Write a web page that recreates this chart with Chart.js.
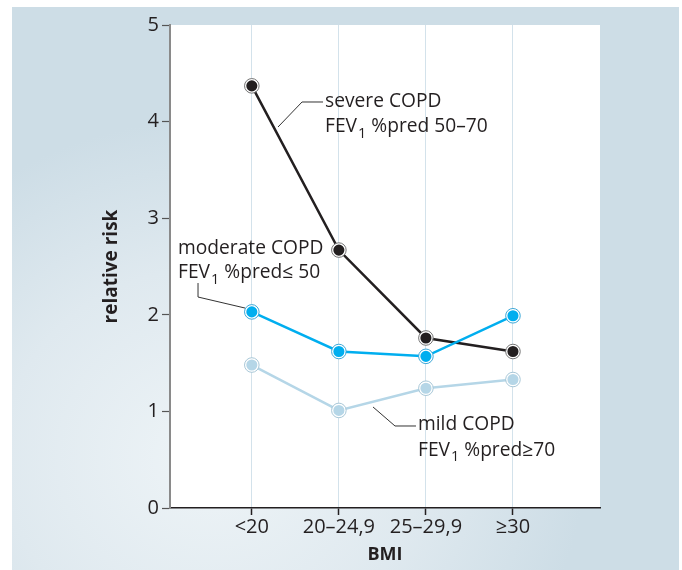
<!DOCTYPE html>
<html>
<head>
<meta charset="utf-8">
<script src="https://cdn.jsdelivr.net/npm/chart.js@4.4.0/dist/chart.umd.min.js"></script>
<style>
  html, body { margin: 0; padding: 0; background: #ffffff; }
  #wrap { position: relative; width: 682px; height: 570px; }
  #panel { position: absolute; left: 12px; top: 7px; width: 667px; height: 563px;
    background: radial-gradient(ellipse 70% 75% at 30% 80%, #eef4f7 0%, #dfe9ef 45%, #cddde6 80%); }
  #c { position: absolute; left: 0; top: 0; }
</style>
</head>
<body>
<div id="wrap">
  <div id="panel"></div>
  <canvas id="c" width="682" height="570"></canvas>
</div>
<script>
const categories = ['<20', '20–24,9', '25–29,9', '≥30'];
const severe   = [4.37, 2.67, 1.76, 1.62];
const moderate = [2.03, 1.62, 1.57, 1.99];
const mild     = [1.48, 1.01, 1.24, 1.33];
const yTicks   = [0, 1, 2, 3, 4, 5];

const FONT = '"Open Sans", Lato, sans-serif';
const TEXT = '#231f20';

function pts(arr) { return arr.map((v, i) => ({ x: i + 1, y: v })); }

// annotation labels (anchored in data space)
const annotations = [
  { x: 1.841, y1: 4.203, y2: 3.944, l1: 'severe COPD', sub: ' %pred 50–70',
    leader: [[1.301, 3.944], [1.577, 4.203], [1.818, 4.203]] },
  { x: 0.152, y1: 2.681, y2: 2.433, l1: 'moderate COPD', sub: ' %pred≤ 50',
    leader: [[0.382, 2.329], [0.382, 2.184], [0.922, 2.070]] },
  { x: 2.909, y1: 0.859, y2: 0.600, l1: 'mild COPD', sub: ' %pred≥70',
    leader: [[2.392, 1.046], [2.645, 0.849], [2.886, 0.849]] }
];

const bgPlugin = {
  id: 'bg',
  beforeDraw(chart) {
    const { ctx, chartArea: a } = chart;
    ctx.save();
    ctx.fillStyle = '#ffffff';
    ctx.fillRect(a.left, a.top, a.right - a.left, a.bottom - a.top);
    ctx.restore();
  }
};

const ringPlugin = {
  id: 'ring',
  afterDatasetsDraw(chart) {
    const { ctx } = chart;
    ctx.save();
    chart.data.datasets.forEach((ds, di) => {
      const meta = chart.getDatasetMeta(di);
      meta.data.forEach(pt => {
        ctx.beginPath();
        ctx.arc(pt.x, pt.y, 7.3, 0, Math.PI * 2);
        ctx.strokeStyle = ds.ringColor;
        ctx.lineWidth = 1;
        ctx.stroke();
      });
    });
    ctx.restore();
  }
};

const annPlugin = {
  id: 'ann',
  afterDraw(chart) {
    const { ctx } = chart;
    const xs = chart.scales.x, ys = chart.scales.y;
    ctx.save();
    // y axis title
    ctx.save();
    ctx.translate(xs.left - 58, (ys.top + ys.bottom) / 2);
    ctx.rotate(-Math.PI / 2);
    ctx.font = 'bold 19px ' + FONT;
    ctx.fillStyle = TEXT;
    ctx.textAlign = 'center';
    ctx.textBaseline = 'middle';
    ctx.fillText('relative risk', 0, 0);
    ctx.restore();

    annotations.forEach(an => {
      ctx.beginPath();
      an.leader.forEach((p, i) => {
        const px = xs.getPixelForValue(p[0]), py = ys.getPixelForValue(p[1]);
        if (i === 0) ctx.moveTo(px, py); else ctx.lineTo(px, py);
      });
      ctx.strokeStyle = '#333333';
      ctx.lineWidth = 1;
      ctx.stroke();

      const tx = xs.getPixelForValue(an.x);
      ctx.fillStyle = TEXT;
      ctx.textBaseline = 'middle';
      ctx.textAlign = 'left';
      ctx.font = '19.2px ' + FONT;
      ctx.fillText(an.l1, tx, ys.getPixelForValue(an.y1));
      const y2 = ys.getPixelForValue(an.y2);
      ctx.fillText('FEV', tx, y2);
      let w = ctx.measureText('FEV').width;
      ctx.font = '14.5px ' + FONT;
      ctx.fillText('1', tx + w + 1, y2 + 7);
      w += ctx.measureText('1').width + 1;
      ctx.font = '19.2px ' + FONT;
      ctx.fillText(an.sub, tx + w, y2);
    });
    ctx.restore();
  }
};

function ds(label, data, color, ring) {
  return {
    label, data: pts(data),
    borderColor: color, borderWidth: 2.5,
    backgroundColor: color,
    pointBackgroundColor: color,
    pointBorderColor: '#ffffff',
    pointBorderWidth: 1.5,
    pointRadius: 6.3,
    pointHoverRadius: 6.3,
    ringColor: ring,
    tension: 0, fill: false
  };
}

new Chart(document.getElementById('c'), {
  type: 'line',
  data: {
    datasets: [
      ds('mild COPD', mild, '#b5d6e7', '#a9c8d8'),
      ds('moderate COPD', moderate, '#00aeef', '#3fa9d8'),
      ds('severe COPD', severe, '#231f20', '#777777')
    ]
  },
  options: {
    responsive: false,
    animation: false,
    events: [],
    layout: { padding: { left: 0, right: 82, top: 25, bottom: 0 } },
    plugins: { legend: { display: false }, tooltip: { enabled: false } },
    scales: {
      x: {
        type: 'linear', min: 0.06, max: 5,
        afterBuildTicks(s) { s.ticks = categories.map((c, i) => ({ value: i + 1 })); },
        afterFit(s) { s.height = 62; },
        ticks: {
          callback: (v) => categories[v - 1] ?? '',
          font: { family: FONT, size: 20 }, color: TEXT, padding: 0, maxRotation: 0, autoSkip: false
        },
        grid: { drawOnChartArea: true, color: '#d3e2eb', lineWidth: 1, tickLength: 7, tickColor: '#231f20', tickWidth: 1.5 },
        border: { display: true, color: '#231f20', width: 1.5 },
        title: { display: true, text: 'BMI', font: { family: FONT, size: 18, weight: 'bold' }, color: TEXT, padding: { top: 0 } }
      },
      y: {
        min: 0, max: 5,
        afterBuildTicks(s) { s.ticks = yTicks.map(v => ({ value: v })); },
        afterFit(s) { s.width = 170; },
        ticks: { font: { family: FONT, size: 20 }, color: TEXT, padding: 3 },
        grid: { drawOnChartArea: false, tickLength: 8, tickColor: '#555555', tickWidth: 1.2 },
        border: { display: true, color: '#8a8a8a', width: 2 },
        title: { display: false }
      }
    }
  },
  plugins: [bgPlugin, ringPlugin, annPlugin]
});
</script>
</body>
</html>
